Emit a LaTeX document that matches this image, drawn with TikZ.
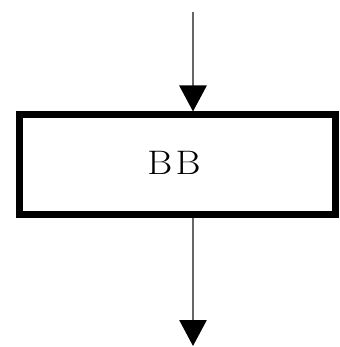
\documentclass[tikz,border=0pt]{standalone}
\usetikzlibrary{arrows.meta}
\begin{document}
\begin{tikzpicture}[x=1pt,y=-1pt,
  blockbox/.style={draw=black, line width=7pt, fill=white,
    minimum width=316pt, minimum height=99pt, inner sep=0pt},
  label/.style={font=\fontsize{34}{38}\selectfont, inner sep=0pt},
  flow/.style={draw=black!60, line width=2.8pt,
    -{Triangle[length=26pt,width=27pt,fill=black,color=black]}}]
  \useasboundingbox (0,0) rectangle (339,347);
  \node[blockbox] (bb) at (177,164.5) {};
  \node[label] (txt) at (174,163) {\scalebox{1.12}[1]{B\kern3pt B}};
  \coordinate (in) at (193,12);
  \coordinate (out) at (193,346);
  \draw[flow] (in) -- (in |- bb.north);
  \draw[flow] (bb.south -| out) -- (out);
\end{tikzpicture}
\end{document}
